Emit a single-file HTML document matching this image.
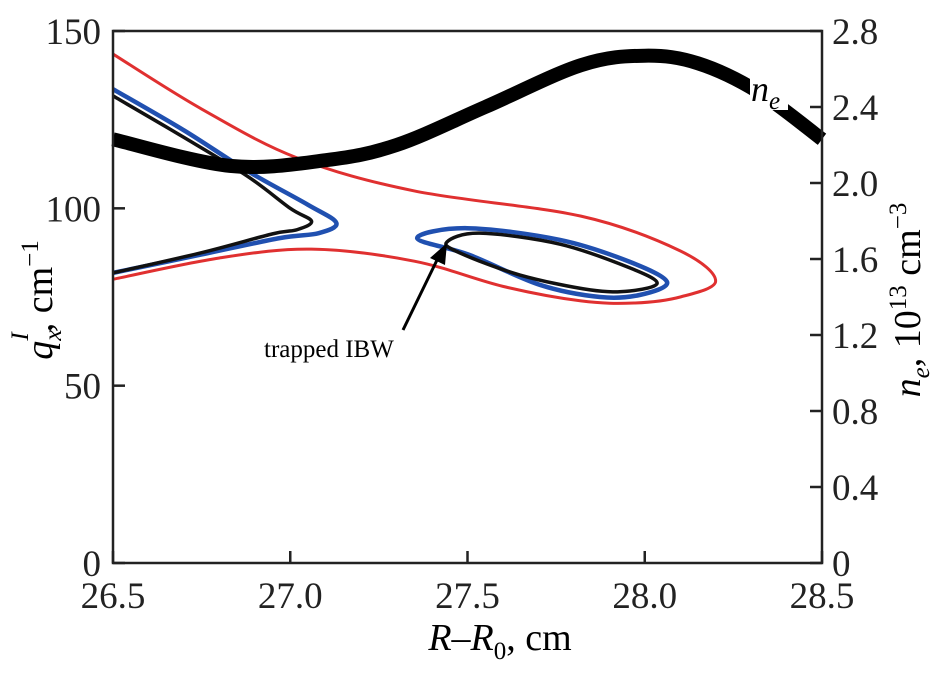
<!DOCTYPE html>
<html><head><meta charset="utf-8"><style>
body{margin:0;background:#fff}
svg{display:block;font-family:"Liberation Serif",serif}
</style></head><body>
<svg width="947" height="673">
<g id="marks"></g>
<rect x="113" y="31" width="709" height="532" fill="none" stroke="#222" stroke-width="2.5"/>
<g id="axes" fill="#222" font-size="37"></g>
<text x="500" y="650" font-size="38" text-anchor="middle"><tspan font-style="italic">R</tspan>–<tspan font-style="italic">R</tspan><tspan font-size="25" dy="9">0</tspan><tspan dy="-9">, cm</tspan></text>
<text transform="translate(52,300) rotate(-90)" font-size="38" text-anchor="middle"><tspan font-style="italic">q</tspan><tspan font-size="25" font-style="italic" dy="9">x</tspan><tspan font-size="25" font-style="italic" dy="-33" dx="-11">I</tspan><tspan dy="24">, cm</tspan><tspan font-size="25" dy="-14">−1</tspan></text>
<text transform="translate(920,300) rotate(-90)" font-size="38" text-anchor="middle"><tspan font-style="italic">n</tspan><tspan font-size="25" font-style="italic" dy="9">e</tspan><tspan dy="-9">, 10</tspan><tspan font-size="25" dy="-14">13</tspan><tspan dy="14"> cm</tspan><tspan font-size="25" dy="-14">−3</tspan></text>
<g><rect x="750" y="76" width="38" height="34" fill="#fff"/><text x="751" y="101" font-size="36" font-style="italic">n<tspan font-size="25" dy="8">e</tspan></text></g>
<text x="264" y="357" font-size="25">trapped IBW</text>
<g><line x1="403" y1="330" x2="438" y2="258" stroke="#000" stroke-width="3"/><polygon points="447,243 430,258 445,265" fill="#000"/></g>
</svg>
<script>
const xTicks=[26.5,27.0,27.5,28.0,28.5];
const xTickLabels=["26.5","27.0","27.5","28.0","28.5"];
const yTicks=[0,50,100,150];
const yTickLabels=["0","50","100","150"];
const y2Ticks=[0,0.4,0.8,1.2,1.6,2.0,2.4,2.8];
const y2TickLabels=["0","0.4","0.8","1.2","1.6","2.0","2.4","2.8"];
const redX=[26.5,26.75,27.02,27.35,27.82,28.1,28.2,28.1,27.97,27.82,27.6,27.35,27.06,26.8,26.5];
const redY=[143.5,128,114.2,104.9,97.8,88,79.5,75,73.3,73.9,78,85.1,88.5,86,80];
const blueLX=[26.5,26.7,26.88,27.05,27.13,27.08,26.97,26.75,26.5];
const blueLY=[133.6,122,110.5,101,95.9,93,91.6,87,81.8];
const blackLX=[26.5,26.7,26.88,27.0,27.06,27.02,26.95,26.75,26.5];
const blackLY=[131.7,120,109,100,96.4,94,92.8,87.5,81.8];
const blueLoopX=[27.358,27.499,27.761,27.958,28.063,27.987,27.874,27.705,27.507];
const blueLoopY=[91.6,94.4,91.1,84.9,79.2,75.6,75.0,78.4,86.8];
const blackLoopX=[27.442,27.535,27.761,27.958,28.035,27.958,27.846,27.648,27.479];
const blackLoopY=[90.5,93.0,89.9,83.2,78.9,76.7,77.0,81.2,87.4];
const neX=[26.5,26.83,27.1,27.3,27.55,27.82,28.0,28.15,28.32,28.5];
const neY=[2.23,2.09,2.12,2.2,2.4,2.62,2.67,2.63,2.48,2.23];
const X=v=>113+(v-26.5)*354.5, Y=v=>563-v*532/150, Y2=v=>563-v*532/2.8;
const NS="http://www.w3.org/2000/svg";
function path(xs,ys,fy,closed){const p=xs.map((x,i)=>[X(x),fy(ys[i])]);const n=p.length;
const g=i=>closed?p[(i+n)%n]:p[Math.max(0,Math.min(n-1,i))];
let d="M"+p[0];const segs=closed?n:n-1;
for(let i=0;i<segs;i++){const a=g(i-1),b=g(i),c=g(i+1),e=g(i+2);
d+=" C"+(b[0]+(c[0]-a[0])/6)+","+(b[1]+(c[1]-a[1])/6)+" "+(c[0]-(e[0]-b[0])/6)+","+(c[1]-(e[1]-b[1])/6)+" "+c;}return d+(closed?"Z":"");}
const m=document.getElementById("marks");
function add(xs,ys,fy,col,w,name,closed){const el=document.createElementNS(NS,"path");el.setAttribute("d",path(xs,ys,fy,closed));el.setAttribute("fill","none");el.setAttribute("stroke",col);el.setAttribute("stroke-width",w);


m.appendChild(el);}
add(redX,redY,Y,"#e03030",3,"red-curve",false);
add(blueLX,blueLY,Y,"#2050b0",4.5,"blue-curve-left",false);
add(blackLX,blackLY,Y,"#111",3.5,"black-curve-left",false);
add(blueLoopX,blueLoopY,Y,"#2050b0",4.5,"blue-loop",true);
add(blackLoopX,blackLoopY,Y,"#111",3.5,"black-loop",true);
add(neX,neY,Y2,"#000",14,"ne-curve",false);
const ax=document.getElementById("axes");
function t(x,y,s,anchor,name){const el=document.createElementNS(NS,"text");el.setAttribute("x",x);el.setAttribute("y",y);el.setAttribute("text-anchor",anchor);el.textContent=s;


ax.appendChild(el);}
function ln(x1,y1,x2,y2){const el=document.createElementNS(NS,"line");el.setAttribute("x1",x1);el.setAttribute("y1",y1);el.setAttribute("x2",x2);el.setAttribute("y2",y2);el.setAttribute("stroke","#222");el.setAttribute("stroke-width","2.5");


ax.appendChild(el);}
xTicks.forEach((v,i)=>{ln(X(v),563,X(v),551);t(X(v),608,xTickLabels[i],"middle","x-tick-label");});
yTicks.forEach((v,i)=>{ln(113,Y(v),125,Y(v));t(101,Y(v)+13,yTickLabels[i],"end","y-tick-label");});
y2Ticks.forEach((v,i)=>{ln(822,Y2(v),810,Y2(v));t(832,Y2(v)+13,y2TickLabels[i],"start","y2-tick-label");});
</script>
</body></html>
